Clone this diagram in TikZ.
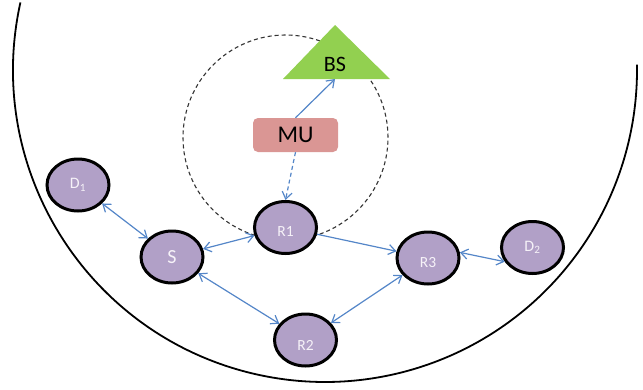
\documentclass[tikz,border=0pt]{standalone}
\usepackage{fontspec}
\setmainfont{Carlito}
\usetikzlibrary{arrows.meta,shapes.geometric}

\definecolor{nodefill}{RGB}{177,160,199}
\definecolor{linkblue}{RGB}{84,134,200}
\definecolor{bsgreen}{RGB}{146,208,80}
\definecolor{mufill}{RGB}{218,150,148}
\definecolor{labelwhite}{RGB}{246,242,248}

\tikzset{
  device/.style={ellipse, draw=black, line width=3pt, fill=nodefill,
    minimum width=62pt, minimum height=52pt, inner sep=0pt,
    text=labelwhite},
  relaylabel/.style={font=\fontsize{15.5}{16}\selectfont},
  link/.style={draw=linkblue, line width=1.2pt},
  barb/.tip={Straight Barb[length=7pt, width=10pt, line width=1.2pt]},
  both/.style={link, barb-barb},
  oneway/.style={link, -barb},
  coverage/.style={draw=black!80, line width=1.1pt, dash pattern=on 4pt off 3pt},
}

\begin{document}
\begin{tikzpicture}[x=1pt, y=-1pt]
  \useasboundingbox (0,0) rectangle (643,389);

  % cell boundary
  \coordinate (cell) at (325,70);
  \draw[line width=1.8pt] ([shift={(167.5:312pt)}]cell)
    arc[start angle=167.5, end angle=361, radius=312pt];

  % coverage area of the mobile unit
  \coordinate (cov) at (285.5,137.5);
  \draw[coverage] (cov) circle[radius=102.5pt];

  % base station
  \fill[bsgreen] (335,25) -- (390,79) -- (283,79) -- cycle;
  \coordinate (bsbase) at (335,79);
  \node[font=\fontsize{22}{24}\selectfont] (BS) at (335,64) {BS};

  % mobile unit
  \node[rectangle, rounded corners=5pt, fill=mufill, minimum width=85pt,
        minimum height=34pt, inner sep=0pt,
        font=\fontsize{24}{26}\selectfont] (MU) at (295.5,135) {MU};

  % devices
  \node[device, font=\fontsize{16}{17}\selectfont] (D1) at (78,185) {D\textsubscript{1}};
  \node[device, font=\fontsize{20}{22}\selectfont] (S)  at (172,257) {S};
  \node[device] (R1) at (285.5,227.5) {};
  \node[device] (R2) at (305.5,340) {};
  \node[device] (R3) at (428,258) {};
  \node[device, font=\fontsize{16}{17}\selectfont] (D2) at (532.5,247.5) {D\textsubscript{2}};
  \node[relaylabel, text=labelwhite] at ([yshift=-4pt]R1.center) {R1};
  \node[relaylabel, text=labelwhite] at ([yshift=-5pt]R2.center) {R2};
  \node[relaylabel, text=labelwhite] at ([yshift=-5pt]R3.center) {R3};

  % links
  \draw[oneway] (MU.north) -- (bsbase);
  \draw[oneway, dash pattern=on 4pt off 3pt] (MU.south) -- (R1.north);
  \draw[both] (D1) -- (S);
  \draw[both] (S) -- (R1);
  \draw[both] (S) -- (R2);
  \draw[oneway] (R1) -- (R3);
  \draw[both] (R2) -- (R3);
  \draw[both] (R3.10) -- (D2.207);
\end{tikzpicture}
\end{document}
